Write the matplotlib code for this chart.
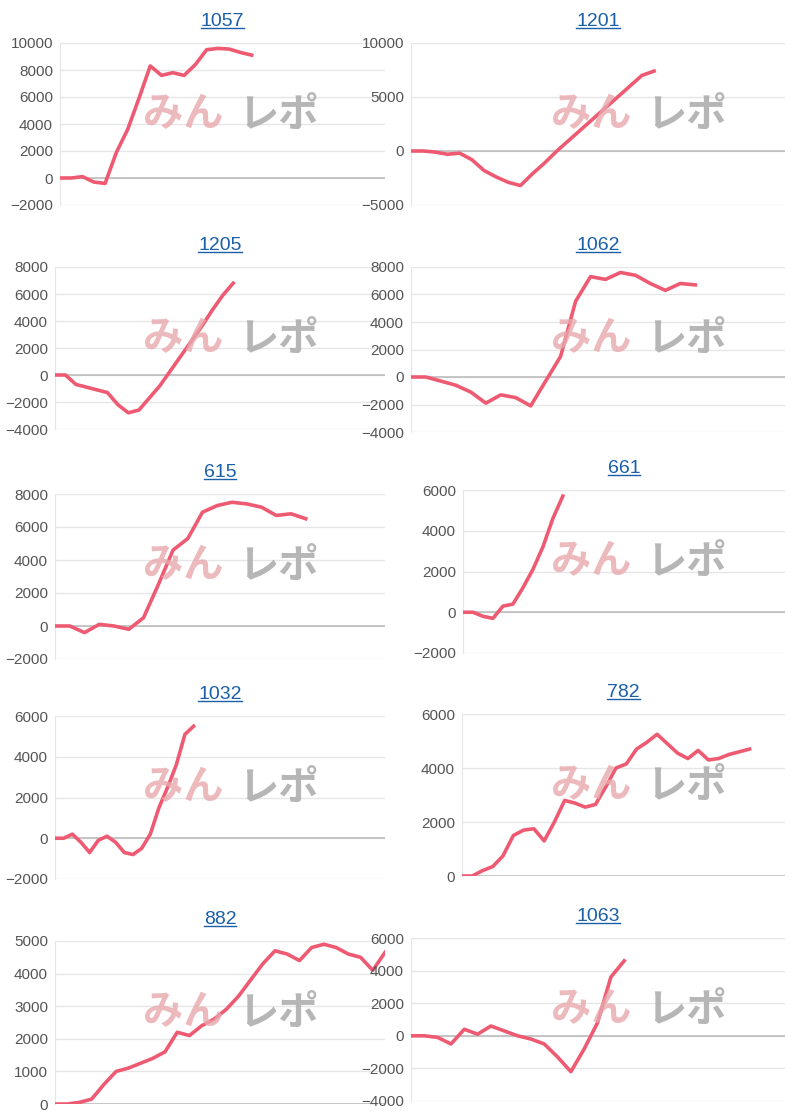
import matplotlib
matplotlib.use("Agg")
from matplotlib import pyplot as plt

plt.rcParams["font.family"] = ["Liberation Sans", "DejaVu Sans"]

W, H = 812, 1120

titles = ["1057", "1201", "1205", "1062", "615", "661", "1032", "782", "882", "1063"]
series = [
    [0, 0, 100, -300, -400, 1900, 3600, 5900, 8300, 7600, 7800, 7600, 8400, 9500, 9600, 9550, 9300, 9100],
    [0, 0, -100, -300, -200, -800, -1800, -2400, -2900, -3200, -2100, -1100, 0, 1000, 2000, 3000, 4000, 5000, 6000, 7000, 7400],
    [0, 0, -700, -900, -1100, -1300, -2200, -2800, -2600, -1700, -800, 300, 1400, 2500, 3600, 4800, 5900, 6800],
    [0, 0, -300, -600, -1100, -1900, -1300, -1500, -2100, -300, 1500, 5500, 7300, 7100, 7600, 7400, 6800, 6300, 6800, 6700],
    [0, 0, -400, 100, 0, -200, 500, 2500, 4600, 5300, 6900, 7300, 7500, 7400, 7200, 6700, 6800, 6500],
    [0, 0, -200, -300, 300, 400, 1200, 2100, 3200, 4600, 5700],
    [0, 0, 200, -200, -700, -100, 100, -200, -700, -800, -500, 200, 1500, 2500, 3600, 5100, 5500],
    [0, 0, 200, 350, 750, 1500, 1700, 1750, 1300, 2000, 2800, 2700, 2550, 2650, 3300, 4000, 4150, 4700,
     4950, 5250, 4900, 4550, 4350, 4650, 4300, 4350, 4500, 4600, 4700],
    [0, 0, 50, 150, 600, 1000, 1100, 1250, 1400, 1600, 2200, 2100, 2400, 2600, 2900, 3300, 3800, 4300,
     4700, 4600, 4400, 4800, 4900, 4800, 4600, 4500, 4100, 4650],
    [0, 0, -100, -500, 400, 100, 600, 300, 0, -200, -500, -1300, -2200, -800, 800, 3600, 4600],
]
# fraction of the x axis covered by each series
fracs = [0.59, 0.65, 0.54, 0.76, 0.76, 0.31, 0.42, 0.89, 1.0, 0.57]
ylims = [(-2000, 10000), (-5000, 10000), (-4000, 8000), (-4000, 8000), (-2000, 8000),
         (-2000, 6000), (-2000, 6000), (0, 6000), (0, 5000), (-4000, 6000)]
ysteps = [2000, 5000, 2000, 2000, 2000, 2000, 2000, 2000, 1000, 2000]
# pixel boxes: left, right, top, bottom
boxes = [(60, 385, 43, 205), (411, 785, 43, 205), (55, 385, 267, 429), (411, 785, 267, 432),
         (55, 385, 494, 659), (463, 785, 490, 653), (55, 385, 716, 879), (462, 785, 714, 876),
         (55, 385, 941, 1104), (411, 785, 938, 1101)]

fig = plt.figure(figsize=(W / 100, H / 100), dpi=100)
titles_art = []
for i in range(10):
    l, r, t, b = boxes[i]
    ax = fig.add_axes([l / W, 1 - b / H, (r - l) / W, (b - t) / H])
    y = series[i]
    n = len(y)
    xmax = (n - 1) / fracs[i]
    ax.plot(range(n), y, color="#ee5a72", lw=2.6, solid_joinstyle="round", zorder=3)
    ax.set_xlim(0, xmax)
    lo, hi = ylims[i]
    ax.set_ylim(lo, hi)
    ax.set_yticks(range(lo, hi + 1, ysteps[i]))
    ax.set_xticks([])
    ax.grid(axis="y", color="#e6e6e6", lw=1)
    ax.axhline(0, color="#bdbdbd", lw=1.2, zorder=2)
    for s in ["top", "right", "bottom"]:
        ax.spines[s].set_visible(False)
    ax.spines["left"].set_color("#e6e6e6")
    ax.tick_params(axis="y", length=0, labelsize=11, labelcolor="#555555", pad=5)
    titles_art.append(ax.set_title(titles[i], color="#1a5fa8", fontsize=14, pad=12))
    # watermark
    cx = 230 if i % 2 == 0 else 638
    cy = t + 72
    fig.text((cx - 47) / W, 1 - cy / H, "みん", fontsize=29, color="#e8a8ad", alpha=0.8,
             family=["Noto Sans CJK JP"], weight="bold", style="italic", ha="center", va="center",
             zorder=1)
    fig.text((cx + 48) / W, 1 - cy / H, "レポ", fontsize=29, color="#aaaaaa", alpha=0.85,
             family=["Noto Sans CJK JP"], weight="bold", style="italic", ha="center", va="center",
             zorder=1)

fig.canvas.draw()
# underline titles
for t in titles_art:
    ext = t.get_window_extent(renderer=fig.canvas.get_renderer())
    x0, x1 = ext.x0 / W, ext.x1 / W
    yb = ext.y0 / H + 0.002
    fig.add_artist(plt.Line2D([x0, x1], [yb, yb], color="#1a5fa8", lw=1))

fig.savefig("out.png", dpi=100, facecolor="white")
